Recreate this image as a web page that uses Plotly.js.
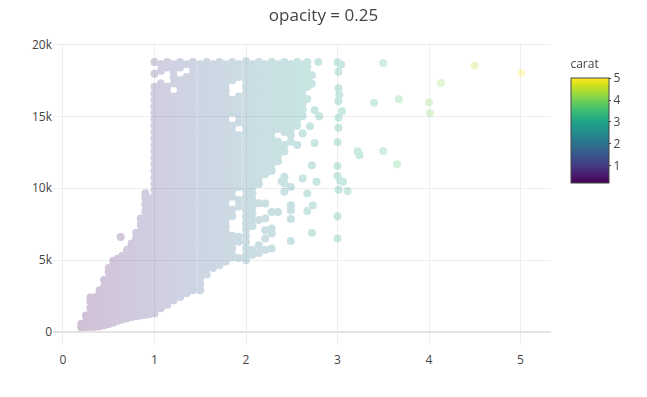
<!DOCTYPE html>
<html>
<head>
<meta charset="utf-8">
<script src="https://cdn.plot.ly/plotly-3.0.1.min.js"></script>
<style>html,body{margin:0;padding:0;background:#fff;}#chart{width:647px;height:397px;}</style>
</head>
<body>
<div id="chart"></div>
<script>
// carat columns of the dense cloud
const caratCols = [0.20,0.25,0.30,0.35,0.40,0.45,0.50,0.55,0.60,0.65,0.70,0.75,0.80,0.85,0.90,0.95,
  1.00,1.07,1.14,1.21,1.28,1.35,1.42,1.50,1.57,1.64,1.71,1.78,1.85,1.92,2.00,2.07,2.14,2.21,2.28,2.35,2.42,2.49,2.56,2.62,2.67];
// prices seen in each carat column
const priceCols = [
  [326,560],
  [340,700,1150],
  [350,790,1240,1690,2140,2400],
  [370,800,1250,1700,2150,2420],
  [400,850,1300,1750,2200,2650,2900],
  [470,920,1370,1820,2270,2720,3170,3620],
  [560,1000,1450,1900,2350,2800,3250,3700,4150,4450],
  [650,1100,1550,2000,2450,2900,3350,3800,4250,4700,4950],
  [780,1230,1680,2130,2580,3030,3480,3930,4380,4830,5100],
  [870,1320,1770,2220,2670,3120,3570,4020,4470,4920,5300],
  [960,1410,1860,2310,2760,3210,3660,4110,4560,5010,5460,5700],
  [1040,1490,1940,2390,2840,3290,3740,4190,4640,5090,5540,5990,6150],
  [1100,1550,2000,2450,2900,3350,3800,4250,4700,5150,5600,6050,6500,6900],
  [1150,1600,2050,2500,2950,3400,3850,4300,4750,5200,5650,6100,6550,7000,7450,7900],
  [1200,1650,2100,2550,3000,3450,3900,4350,4800,5250,5700,6150,6600,7050,7500,7950,8400,8850,9300,9650],
  [1260,1710,2160,2610,3060,3510,3960,4410,4860,5310,5760,6210,6660,7110,7560,8010,8460,8910,9300],
  [1300,1750,2200,2650,3100,3550,4000,4450,4900,5350,5800,6250,6700,7150,7600,8050,8500,8950,9400,9850,10300,10750,11200,11650,12100,12550,13000,13450,13900,14350,14800,15250,15700,16150,16600,17050,17950,18780],
  [1650,1975,2425,2875,3325,3775,4225,4675,5125,5575,6025,6475,6925,7375,7825,8275,8725,9175,9625,10075,10525,10975,11425,11875,12325,12775,13225,13675,14125,14575,15025,15475,15925,16375,16825,17275,18175,18625],
  [1900,2200,2650,3100,3550,4000,4450,4900,5350,5800,6250,6700,7150,7600,8050,8500,8950,9400,9850,10300,10750,11200,11650,12100,12550,13000,13450,13900,14350,14800,15250,15700,16150,16600,17050,18400,18780],
  [2200,2425,2875,3325,3775,4225,4675,5125,5575,6025,6475,6925,7375,7825,8275,8725,9175,9625,10075,10525,10975,11425,11875,12325,12775,13225,13675,14125,14575,15025,15475,15925,16375,17275,17725,18175,18625],
  [2430,2650,3100,3550,4000,4450,4900,5350,5800,6250,6700,7150,7600,8050,8500,8950,9400,9850,10300,10750,11200,11650,12100,12550,13000,13450,13900,14350,14800,15250,15700,16150,16600,17050,17500,18400,18780],
  [2700,2875,3325,3775,4225,4675,5125,5575,6025,6475,6925,7375,7825,8275,8725,9175,9625,10075,10525,10975,11425,11875,12325,12775,13225,13675,14125,14575,15025,15475,15925,16375,16825,17275,17725,18625],
  [2900,3100,3550,4000,4450,4900,5350,5800,6250,6700,7150,7600,8050,8500,8950,9400,9850,10300,10750,11200,11650,12100,12550,13000,13450,13900,14350,14800,15250,15700,16150,16600,17050,17500,17950,18400,18780],
  [2900,3325,3775,4225,4675,5125,5575,6025,6475,6925,7375,7825,8275,8725,9175,9625,10075,10525,10975,11425,11875,12325,12775,13225,13675,14125,14575,15025,15475,15925,16375,16825,17275,17725,18175,18625],
  [4000,4450,4900,5350,5800,6250,6700,7150,7600,8050,8500,8950,9400,9850,10300,10750,11200,11650,12100,12550,13000,13450,13900,14350,14800,15250,15700,16150,16600,17050,17500,17950,18400,18780],
  [4450,4675,5125,5575,6025,6475,6925,7375,7825,8275,8725,9175,9625,10075,10525,10975,11425,11875,12325,12775,13225,13675,14125,14575,15025,15475,15925,16375,16825,17275,17725,18175,18625],
  [4650,4900,5350,5800,6250,6700,7150,7600,8050,8500,8950,9400,9850,10300,10750,11200,11650,12100,12550,13000,13450,13900,14350,14800,15250,15700,16150,16600,17050,17500,17950,18400,18780],
  [4900,5125,5575,6025,6475,6925,7375,7825,8275,8725,9175,9625,10075,10525,10975,11425,11875,12325,12775,13225,13675,14125,14575,15025,15475,15925,16375,16825,17275,17725,18175,18625],
  [5200,5350,5800,6250,6700,8050,8500,9400,9850,10300,10750,11200,11650,12100,12550,13000,13450,13900,14350,15250,15700,16150,17500,17950,18400,18780],
  [5150,6270,6620,8725,9175,10075,10525,10975,11425,11875,12325,12775,13225,13675,14575,15025,15475,15925,16375,17725,18175,18625],
  [5000,5350,5800,6250,6700,7150,7600,8050,8500,8950,9400,9850,10300,10750,11200,11650,12100,12550,13000,13450,13900,14350,14800,15250,15700,16150,16600,17050,17500,17950,18400,18823],
  [5350,5700,7375,7825,8275,8725,9175,9625,10075,10525,10975,11425,11875,12325,12775,13225,13675,14125,14575,15025,15475,15925,16375,16825,17275,17725,18175,18625],
  [5500,6040,7780,8950,10300,10750,11200,11650,12100,12550,13000,13450,13900,14350,14800,15250,15700,16150,16600,17050,17500,17950,18400,18780],
  [5700,6500,7080,7900,8940,10975,11425,11875,12325,12775,13225,13675,14125,14575,15025,15475,15925,16375,16825,17275,17725,18175,18625],
  [5800,6850,7200,8350,11200,11650,12100,12550,13000,13450,13900,14350,14800,15250,15700,16150,16600,17050,17500,17950,18400,18780],
  [8350,11875,12325,12775,13225,14125,14575,15025,15475,15925,16375,16825,17275,17725,18175,18625],
  [9750,10330,10790,12550,13000,13900,14350,14800,15250,15700,16150,16600,17050,17500,17950,18400,18780],
  [6320,7850,8470,8820,10090,13225,13675,14125,14575,15025,15475,15925,16375,16825,17275,17725,18175,18625],
  [13000,14350,14800,15250,15700,16150,16600,17050,17500,17950,18400,18780],
  [10670,13800,15025,15475,15925,16375,16825,17275,17725,18175,18625],
  [8420,9630,16200,17050,17500,17950,18400,18780]
];
// isolated diamonds
const outCarat = [0.63,2.70,2.72,2.72,2.75,2.80,2.75,2.72,2.77,2.73,2.72,2.39,2.79,3.00,3.04,3.01,3.01,3.02,3.01,3.05,3.01,3.01,3.00,3.00,3.00,3.03,3.06,3.01,3.11,3.00,3.00,3.22,3.24,3.40,3.50,3.50,3.65,3.67,4.00,4.01,4.13,4.50,5.01];
const outPrice = [6600,14300,17270,17850,15420,15000,13150,11600,10440,8820,6900,10490,18770,18750,18600,18100,16950,16500,16050,15350,14900,14200,13200,11550,10850,10520,10450,9900,9800,8050,6500,12570,12290,15950,18700,12590,11670,16180,15970,15230,17310,18530,18018];

const xs = [], ys = [];
caratCols.forEach((c, i) => priceCols[i].forEach(p => { xs.push(c); ys.push(p); }));
outCarat.forEach((c, i) => { xs.push(c); ys.push(outPrice[i]); });

const trace = {
  type: 'scatter', mode: 'markers', x: xs, y: ys, opacity: 0.25,
  marker: {
    size: 8, color: xs, colorscale: 'Viridis', cmin: 0.2, cmax: 5.01, showscale: true,
    colorbar: {
      title: {text: 'carat', side: 'top', font: {size: 12}},
      len: 0.487, y: 0.99, yanchor: 'top', thickness: 38, ticklen: 2,
      outlinecolor: '#444', outlinewidth: 1, tickfont: {size: 12}
    }
  },
  hoverinfo: 'none'
};

const layout = {
  width: 647, height: 397,
  margin: {l: 53, r: 96, t: 43, b: 52},
  paper_bgcolor: '#fff', plot_bgcolor: '#fff',
  font: {family: '"Open Sans", verdana, arial, sans-serif', size: 12, color: '#444'},
  title: {text: 'opacity = 0.25', font: {size: 17, color: '#444'}, x: 0.5, xref: 'container', y: 0.962, yref: 'container', yanchor: 'middle'},
  xaxis: {range: [-0.109, 5.333], zeroline: false, gridcolor: '#eee', showline: false, ticks: '', ticklabelstandoff: 6},
  yaxis: {range: [-904, 20097], zeroline: true, zerolinecolor: '#e4e4e4', zerolinewidth: 2, gridcolor: '#eee', showline: false, ticks: ''},
  showlegend: false
};

Plotly.newPlot('chart', [trace], layout, {displayModeBar: false, staticPlot: true});
</script>
</body>
</html>
